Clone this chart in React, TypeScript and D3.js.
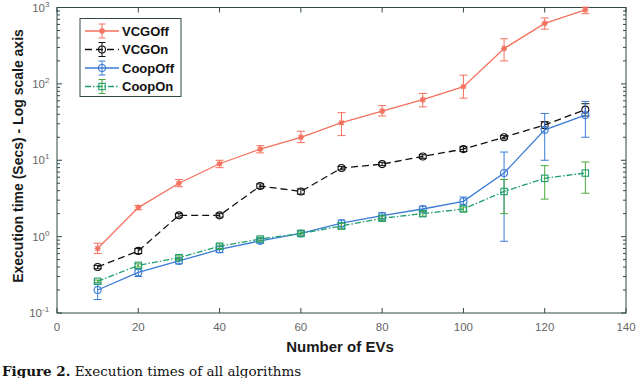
import React from "react";
import * as d3 from "d3";

const evs = [10, 20, 30, 40, 50, 60, 70, 80, 90, 100, 110, 120, 130];

const vcgOff = [0.7, 2.4, 5, 9, 14, 20, 31, 44, 62, 92, 290, 620, 930];
const vcgOffLo = [0.6, 2.25, 4.5, 8, 12.5, 17, 21, 38, 50, 65, 200, 520, 830];
const vcgOffHi = [0.82, 2.55, 5.6, 10, 15.5, 24, 42, 52, 75, 130, 390, 730, 1010];

const vcgOn = [0.4, 0.65, 1.9, 1.9, 4.6, 3.9, 7.9, 8.9, 11.2, 14, 20, 29, 46];
const vcgOnLo = [0.38, 0.6, 1.8, 1.8, 4.3, 3.6, 7.5, 8.5, 10.6, 13, 19, 26, 38];
const vcgOnHi = [0.42, 0.7, 2.0, 2.0, 4.9, 4.2, 8.3, 9.3, 11.8, 15, 21, 32, 55];

const coopOff = [0.2, 0.34, 0.48, 0.68, 0.88, 1.1, 1.5, 1.88, 2.3, 2.9, 6.8, 25, 39];
const coopOffLo = [0.15, 0.3, 0.44, 0.62, 0.82, 1.02, 1.3, 1.7, 2.1, 2.6, 0.87, 10, 20];
const coopOffHi = [0.24, 0.38, 0.52, 0.74, 0.95, 1.2, 1.65, 2.05, 2.5, 3.3, 12.8, 41, 59];

const coopOn = [0.26, 0.42, 0.53, 0.75, 0.93, 1.1, 1.38, 1.74, 2.0, 2.3, 3.9, 5.8, 6.8];
const coopOnLo = [0.25, 0.4, 0.5, 0.7, 0.88, 1.05, 1.25, 1.62, 1.85, 2.15, 2.0, 3.1, 3.7];
const coopOnHi = [0.27, 0.44, 0.56, 0.8, 0.98, 1.15, 1.5, 1.86, 2.15, 2.45, 5.6, 8.5, 9.5];

const xTicks = [0, 20, 40, 60, 80, 100, 120, 140];
const yDecades = [-1, 0, 1, 2, 3];
const legendNames = ["VCGOff", "VCGOn", "CoopOff", "CoopOn"];

const series = [
  { name: "VCGOff", y: vcgOff, lo: vcgOffLo, hi: vcgOffHi, color: "#f4715e", bar: "#f4715e", dash: "", marker: "star" },
  { name: "VCGOn", y: vcgOn, lo: vcgOnLo, hi: vcgOnHi, color: "#111", bar: "#111", dash: "7,4", marker: "circle" },
  { name: "CoopOff", y: coopOff, lo: coopOffLo, hi: coopOffHi, color: "#3a7bd5", bar: "#3a7bd5", dash: "", marker: "circle" },
  { name: "CoopOn", y: coopOn, lo: coopOnLo, hi: coopOnHi, color: "#1f9e6e", bar: "#4aa83a", dash: "6,2,1.5,2", marker: "square" },
];

const W = 640;
const H = 378;

const x = d3.scaleLinear().domain([0, 140]).range([57, 626]);
const y = d3.scaleLog().domain([0.1, 1000]).range([313, 7.5]);

const axisColor = "#2f4848";
const tickText = "#666";

function Marker({ type, cx, cy, color }: { type: string; cx: number; cy: number; color: string }) {
  if (type === "star") {
    return (
      <g stroke={color} strokeWidth={1.4}>
        <line x1={cx - 3} y1={cy} x2={cx + 3} y2={cy} />
        <line x1={cx} y1={cy - 3} x2={cx} y2={cy + 3} />
        <line x1={cx - 2.2} y1={cy - 2.2} x2={cx + 2.2} y2={cy + 2.2} />
        <line x1={cx - 2.2} y1={cy + 2.2} x2={cx + 2.2} y2={cy - 2.2} />
      </g>
    );
  }
  if (type === "square") {
    return <rect x={cx - 3.2} y={cy - 3.2} width={6.4} height={6.4} fill="none" stroke={color} strokeWidth={1.1} />;
  }
  return <circle cx={cx} cy={cy} r={3.5} fill="none" stroke={color} strokeWidth={1.1} />;
}

export default function App() {
  const minorTicks: number[] = [];
  for (let d = -1; d < 3; d++) {
    for (let k = 2; k <= 9; k++) minorTicks.push(k * Math.pow(10, d));
  }
  const [x0, x1] = x.range();
  const [y0, y1] = y.range();

  return (
    <svg width={W} height={H} style={{ position: "absolute", left: 0, top: 0, background: "#fff" }} fontFamily="Liberation Sans, Arial, sans-serif">
      {/* plot box */}
      <rect x={x0} y={y1} width={x1 - x0} height={y0 - y1} fill="#fff" stroke={axisColor} strokeWidth={1} />

      {/* x ticks */}
      {xTicks.map((t) => (
        <g key={"x" + t}>
          <line x1={x(t)} x2={x(t)} y1={y0} y2={y0 - 5} stroke={axisColor} />
          <line x1={x(t)} x2={x(t)} y1={y1} y2={y1 + 5} stroke={axisColor} />
          <text x={x(t)} y={y0 + 18} textAnchor="middle" fontSize={11.5} fill={tickText}>{t}</text>
        </g>
      ))}

      {/* y ticks */}
      {yDecades.map((d) => (
        <g key={"y" + d}>
          <line x1={x0} x2={x0 + 5} y1={y(Math.pow(10, d))} y2={y(Math.pow(10, d))} stroke={axisColor} />
          <line x1={x1} x2={x1 - 5} y1={y(Math.pow(10, d))} y2={y(Math.pow(10, d))} stroke={axisColor} />
          <text x={d < 0 ? 42 : 45} y={y(Math.pow(10, d)) + 4} textAnchor="end" fontSize={11.5} fill={tickText}>10</text>
          <text x={d < 0 ? 42 : 45} y={y(Math.pow(10, d)) - 1} fontSize={8} fill={tickText}>{d}</text>
        </g>
      ))}
      {minorTicks.map((v) => (
        <g key={"m" + v}>
          <line x1={x0} x2={x0 + 3} y1={y(v)} y2={y(v)} stroke={axisColor} />
          <line x1={x1} x2={x1 - 3} y1={y(v)} y2={y(v)} stroke={axisColor} />
        </g>
      ))}

      {/* series */}
      {series.map((s) => {
        const line = d3.line<number>().x((_, i) => x(evs[i])).y((v) => y(v));
        return (
          <g key={s.name}>
            <path d={line(s.y) || ""} fill="none" stroke={s.color} strokeWidth={1.3} strokeDasharray={s.dash} />
            {evs.map((e, i) => (
              <g key={i} stroke={s.bar} strokeWidth={1}>
                <line x1={x(e)} x2={x(e)} y1={y(s.lo[i])} y2={y(s.hi[i])} />
                <line x1={x(e) - 4} x2={x(e) + 4} y1={y(s.lo[i])} y2={y(s.lo[i])} />
                <line x1={x(e) - 4} x2={x(e) + 4} y1={y(s.hi[i])} y2={y(s.hi[i])} />
              </g>
            ))}
            {evs.map((e, i) => (
              <Marker key={"mk" + i} type={s.marker} cx={x(e)} cy={y(s.y[i])} color={s.color} />
            ))}
          </g>
        );
      })}

      {/* legend */}
      <g>
        <rect x={80} y={18.5} width={101} height={78} fill="#fff" stroke={axisColor} strokeWidth={1} />
        {series.map((s, i) => {
          const ly = 31 + i * 18.5;
          return (
            <g key={"lg" + i}>
              <line x1={85} x2={119} y1={ly} y2={ly} stroke={s.color} strokeWidth={1.3} strokeDasharray={s.dash} />
              <g stroke={s.bar} strokeWidth={1}>
                <line x1={102} x2={102} y1={ly - 7} y2={ly + 7} />
                <line x1={98.5} x2={105.5} y1={ly - 7} y2={ly - 7} />
                <line x1={98.5} x2={105.5} y1={ly + 7} y2={ly + 7} />
              </g>
              <Marker type={s.marker} cx={102} cy={ly} color={s.color} />
              <text x={122} y={ly + 4.5} fontSize={13} fontWeight="bold" fill="#111">{legendNames[i]}</text>
            </g>
          );
        })}
      </g>

      {/* axis labels */}
      <text transform="translate(23,156) rotate(-90)" textAnchor="middle" fontSize={14} fontWeight="bold" fill="#1a1a1a">
        Execution time (Secs) - Log scale axis
      </text>
      <text x={340} y={352} textAnchor="middle" fontSize={15} fontWeight="bold" fill="#1a1a1a">Number of EVs</text>

      {/* caption */}
      <text x={2} y={376} fontFamily="DejaVu Serif, Liberation Serif, serif" fontSize={13.5} fill="#111">
        <tspan fontWeight="bold">Figure 2.</tspan> Execution times of all algorithms
      </text>
    </svg>
  );
}
